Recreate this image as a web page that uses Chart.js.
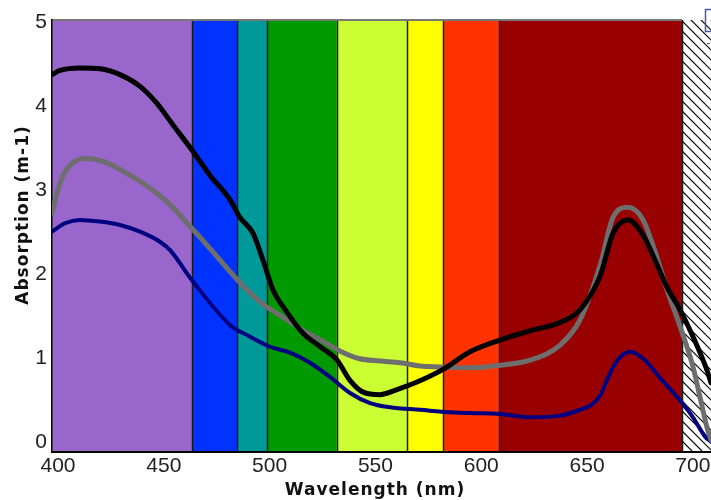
<!DOCTYPE html>
<html>
<head>
<meta charset="utf-8">
<script src="https://cdn.jsdelivr.net/npm/chart.js@4"></script>
<style>
  html, body { margin: 0; padding: 0; background: #ffffff; }
  canvas { display: block; }
</style>
</head>
<body>
<canvas id="spectrumChart" width="711" height="500"></canvas>
<script>
// ---- data ----
const xTicks = [400, 450, 500, 550, 600, 650, 700];
const yTicks = [0, 1, 2, 3, 4, 5];
const xMin = 400;
const xMax = 711.4;
const yMin = -0.143;
const yMax = 5;

// colour bands of the visible spectrum (nm edges)
const bandEdges = [400, 466, 487.5, 501.6, 534.6, 567.8, 584.8, 611.2, 697.7];
const bandColors = ["#9966cc", "#0033ff", "#009999", "#009900", "#ccff33", "#ffff00", "#ff3300", "#990000"];

const blackNm = [400, 403.8, 413.2, 422.7, 432.1, 441.6, 449.5, 457.2, 466.2, 474.7, 484.1, 488.8, 495.0, 499.7, 504.4, 511.1, 518.6, 526.7, 534.7, 540.8, 547.0, 555.0, 563.0, 572.5, 584.8, 597.5, 611.7, 625.9, 640.1, 649.5, 659.0, 665.1, 672.2, 679.3, 685.0, 690.6, 696.8, 702.9, 709.5, 711.4];
const blackAbs = [4.35, 4.40, 4.43, 4.42, 4.35, 4.21, 4.01, 3.75, 3.45, 3.15, 2.86, 2.65, 2.46, 2.14, 1.79, 1.52, 1.27, 1.11, 0.95, 0.71, 0.57, 0.54, 0.60, 0.69, 0.84, 1.05, 1.19, 1.30, 1.40, 1.55, 1.95, 2.46, 2.62, 2.44, 2.14, 1.82, 1.55, 1.23, 0.83, 0.68];

const grayNm = [400, 403.8, 408.5, 416.4, 425.9, 435, 445, 455, 465, 475, 485, 492, 500, 508, 517, 527, 536, 545, 555, 564.5, 573.9, 583.4, 597.5, 611.7, 625.9, 640.1, 649.5, 659.0, 665.1, 672.2, 679.3, 685.0, 690.6, 696.8, 702.9, 706.2, 709.5, 711.4];
const grayAbs = [2.70, 3.06, 3.27, 3.35, 3.30, 3.18, 3.02, 2.82, 2.55, 2.27, 1.98, 1.79, 1.61, 1.48, 1.33, 1.19, 1.06, 0.97, 0.94, 0.92, 0.88, 0.87, 0.86, 0.89, 0.95, 1.13, 1.43, 2.08, 2.65, 2.77, 2.62, 2.24, 1.79, 1.35, 0.87, 0.51, 0.15, 0.00];

const blueNm = [400, 406.1, 413.2, 422.7, 432.1, 441.6, 451.0, 455.8, 466.2, 484.1, 493.6, 503.0, 512.5, 521.9, 531.4, 540.8, 550.3, 559.7, 573.9, 588.1, 597.5, 611.7, 625.9, 640.1, 649.5, 655.0, 659.0, 662.0, 665.1, 669.0, 673.2, 680.2, 687.3, 696.8, 702.9, 708.6, 711.4];
const blueAbs = [2.48, 2.58, 2.62, 2.60, 2.56, 2.48, 2.36, 2.26, 1.90, 1.37, 1.23, 1.11, 1.04, 0.92, 0.75, 0.56, 0.44, 0.39, 0.36, 0.33, 0.32, 0.31, 0.27, 0.29, 0.36, 0.42, 0.53, 0.70, 0.87, 1.00, 1.05, 0.95, 0.74, 0.47, 0.27, 0.04, -0.02];

function toPoints(xs, ys) {
    return xs.map((x, i) => ({ x: x, y: ys[i] }));
}

// ---- background: spectrum bands, hatch and frame ----
const spectrumBands = {
    id: "spectrumBands",
    beforeDraw(chart) {
        const { ctx, chartArea, scales } = chart;
        const x = scales.x;
        const top = chartArea.top;
        const bottom = chartArea.bottom;

        ctx.save();
        for (let i = 0; i < bandColors.length; i++) {
            const x0 = x.getPixelForValue(bandEdges[i]);
            const x1 = x.getPixelForValue(bandEdges[i + 1]);
            ctx.fillStyle = bandColors[i];
            ctx.fillRect(x0, top, x1 - x0, bottom - top);
        }

        // separators between bands
        ctx.strokeStyle = "#1a1a1a";
        ctx.lineWidth = 1.5;
        for (let i = 1; i < bandEdges.length; i++) {
            const px = Math.round(x.getPixelForValue(bandEdges[i])) + 0.5;
            ctx.beginPath();
            ctx.moveTo(px, top);
            ctx.lineTo(px, bottom);
            ctx.stroke();
        }

        // hatched area beyond the last band
        const hx = x.getPixelForValue(bandEdges[bandEdges.length - 1]);
        const hw = chartArea.right - hx;
        ctx.save();
        ctx.beginPath();
        ctx.rect(hx, top, hw, bottom - top);
        ctx.clip();
        ctx.strokeStyle = "#000000";
        ctx.lineWidth = 1.2;
        for (let c = top - hw - 10; c < bottom; c += 10) {
            ctx.beginPath();
            ctx.moveTo(hx, c);
            ctx.lineTo(hx + 60, c + 60);
            ctx.stroke();
        }
        ctx.restore();

        // grey top frame over the bands
        ctx.strokeStyle = "#777777";
        ctx.lineWidth = 2;
        ctx.beginPath();
        ctx.moveTo(chartArea.left, top);
        ctx.lineTo(hx, top);
        ctx.stroke();
        ctx.restore();
    },
    afterDraw(chart) {
        const { ctx } = chart;
        ctx.save();
        ctx.fillStyle = "#111111";
        ctx.font = "bold 17px 'DejaVu Sans'";
        ctx.letterSpacing = "1px";
        ctx.textAlign = "center";
        ctx.textBaseline = "middle";
        ctx.fillText("Wavelength (nm)", 375, 491);

        ctx.translate(24, 215);
        ctx.rotate(-Math.PI / 2);
        ctx.fillText("Absorption (m-1)", 0, 0);
        ctx.restore();

        // clipped legend fragment in the top right corner
        ctx.save();
        ctx.strokeStyle = "#4a58a8";
        ctx.lineWidth = 1.5;
        ctx.strokeRect(705.5, 9.5, 12, 22);
        ctx.strokeStyle = "#666666";
        ctx.lineWidth = 1;
        ctx.beginPath();
        ctx.moveTo(707, 43.5);
        ctx.lineTo(710, 43.5);
        ctx.stroke();
        ctx.restore();
    },
};

const tickFont = { family: "'Liberation Sans', Arial, sans-serif", size: 21 };

new Chart(document.getElementById("spectrumChart"), {
    type: "line",
    data: {
        datasets: [
            {
                label: "black",
                data: toPoints(blackNm, blackAbs),
                borderColor: "#000000",
                borderWidth: 5,
            },
            {
                label: "grey",
                data: toPoints(grayNm, grayAbs),
                borderColor: "#6e6e6e",
                borderWidth: 5,
            },
            {
                label: "blue",
                data: toPoints(blueNm, blueAbs),
                borderColor: "#000080",
                borderWidth: 4,
            },
        ],
    },
    options: {
        responsive: false,
        animation: false,
        devicePixelRatio: 1,
        layout: { padding: { top: 20, right: 0, bottom: 0, left: 0 } },
        elements: {
            point: { radius: 0 },
            line: { cubicInterpolationMode: "monotone", borderCapStyle: "round", borderJoinStyle: "round", fill: false },
        },
        plugins: {
            legend: { display: false },
            tooltip: { enabled: false },
        },
        scales: {
            x: {
                type: "linear",
                min: xMin,
                max: xMax,
                grid: { display: false, drawTicks: false },
                border: { display: true, color: "#000000", width: 2 },
                ticks: { font: tickFont, color: "#222222", padding: 2, labelOffset: 6, maxRotation: 0 },
                afterBuildTicks: (scale) => {
                    scale.ticks = xTicks.map((v) => ({ value: v }));
                },
                afterFit: (scale) => {
                    scale.height = 48;
                },
            },
            y: {
                min: yMin,
                max: yMax,
                grid: { display: false, drawTicks: false },
                border: { display: true, color: "#000000", width: 1.5 },
                ticks: { font: tickFont, color: "#222222", padding: 5, labelOffset: 2 },
                afterBuildTicks: (scale) => {
                    scale.ticks = yTicks.map((v) => ({ value: v }));
                },
                afterFit: (scale) => {
                    scale.width = 52;
                },
            },
        },
    },
    plugins: [spectrumBands],
});
</script>
</body>
</html>
